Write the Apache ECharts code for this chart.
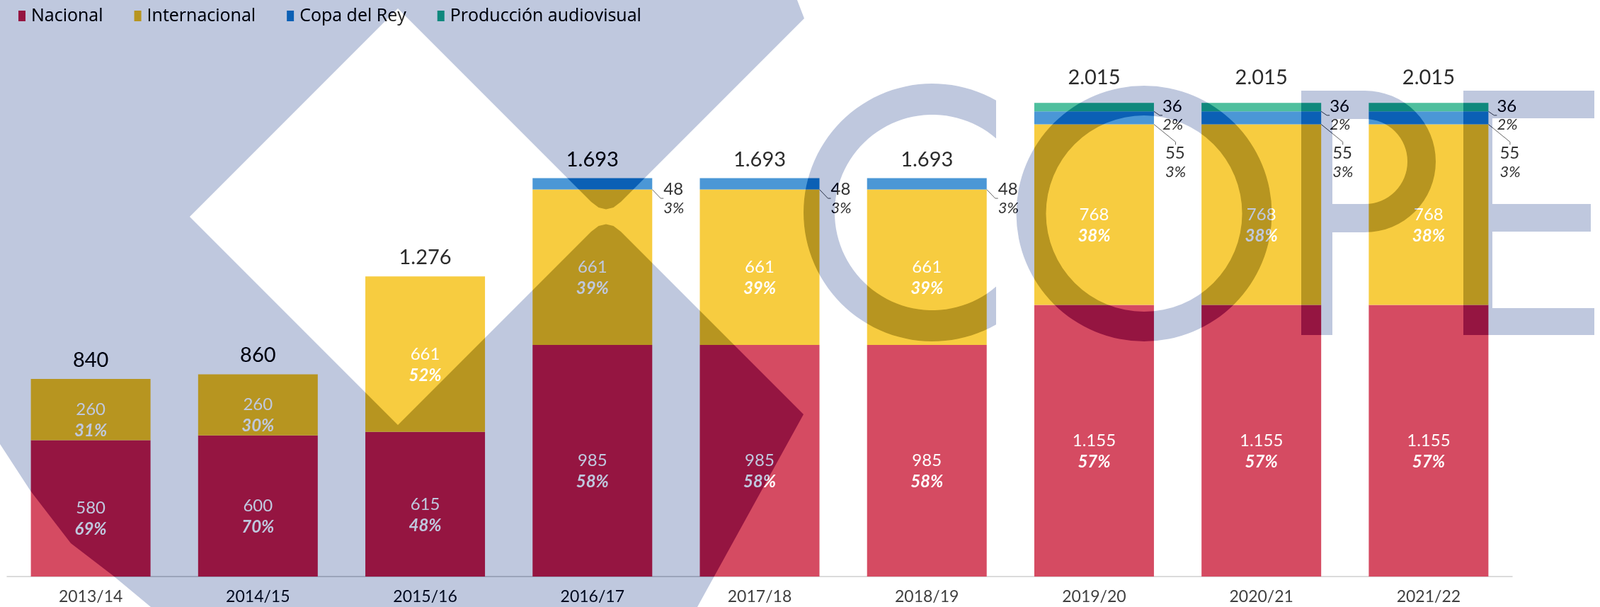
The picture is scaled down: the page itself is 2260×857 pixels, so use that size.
<!DOCTYPE html>
<html>
<head>
<meta charset="utf-8">
<title>Ingresos por derechos</title>
<script src="https://cdn.jsdelivr.net/npm/echarts/dist/echarts.min.js"></script>
<style>
    html, body { margin: 0; padding: 0; background: #fff; }
    #chart { width: 2260px; height: 857px; }
</style>
</head>
<body>
<div id="chart"></div>
<script>
// datos por temporada
const temporadas = ['2013/14', '2014/15', '2015/16', '2016/17', '2017/18', '2018/19', '2019/20', '2020/21', '2021/22'];
const nacional = [580, 600, 615, 985, 985, 985, 1155, 1155, 1155];
const internacional = [260, 260, 661, 661, 661, 661, 768, 768, 768];
const copaDelRey = [null, null, null, 48, 48, 48, 55, 55, 55];
const produccion = [null, null, null, null, null, null, 36, 36, 36];
const totales = [840, 860, 1276, 1693, 1693, 1693, 2015, 2015, 2015];

const FONT = 'Lato';

// 1155 -> "1.155"
function fmt(v) {
    if (v >= 1000) {
        return Math.floor(v / 1000) + '.' + String(v % 1000).padStart(3, '0');
    }
    return String(v);
}

function pct(v, i) {
    return Math.round(v / totales[i] * 100) + '%';
}

let innerLabel = {
    show: true,
    position: 'inside',
    offset: [0, 15],
    formatter: (p) => '{v|' + fmt(p.value) + '}\n{p|' + pct(p.value, p.dataIndex) + '}',
    rich: {
        v: {fontFamily: FONT, fontSize: 24, color: '#fff', lineHeight: 30},
        p: {fontFamily: FONT, fontSize: 24, color: '#fff', fontWeight: 'bold', fontStyle: 'italic', lineHeight: 30}
    }
};

let sideLabel = {
    show: true,
    position: 'right',
    distance: 16,
    formatter: (p) => '{v|' + fmt(p.value) + '}\n{p|' + pct(p.value, p.dataIndex) + '}',
    rich: {
        v: {fontFamily: FONT, fontSize: 24, color: '#333', lineHeight: 26},
        p: {fontFamily: FONT, fontSize: 22, color: '#333', fontStyle: 'italic', lineHeight: 26}
    }
};

let sideLine = {
    show: true,
    length2: 4,
    lineStyle: {color: '#666', width: 1}
};

// marca de agua (logo COPE), se pinta encima con fusion de color
function arc(cx, cy, r, a0, a1, n) {
    let pts = [];
    for (let i = 0; i <= n; i++) {
        let a = a0 + (a1 - a0) * i / n;
        pts.push([cx + r * Math.cos(a), cy + r * Math.sin(a)]);
    }
    return pts;
}

let cOuter = Math.acos(90 / 182);
let cInner = Math.acos(90 / 138);
let logoParts = [
    {type: 'polygon', shape: {points: [
        [0, 0], [1126, 0], [1136, 26], [877, 285], [866.5, 292.9], [856, 295.5], [845.5, 292.9], [835, 285],
        [562, 12], [268, 306], [562, 600],
        [835, 327], [845.5, 319.1], [856, 316.5], [866.5, 319.1], [877, 327],
        [1135, 585], [985, 857], [213, 857], [160, 813], [100, 767], [43, 693], [0, 627]
    ]}},
    // C
    {type: 'polygon', shape: {points: arc(1317, 300, 182, -cOuter, -2 * Math.PI + cOuter, 80)
            .concat(arc(1317, 300, 138, -2 * Math.PI + cInner, -cInner, 80))}},
    // O
    {type: 'ring', shape: {cx: 1616, cy: 301.5, r: 180.5, r0: 138.5}},
    // P
    {type: 'rect', shape: {x: 1838, y: 128, width: 44, height: 345}},
    {type: 'rect', shape: {x: 1882, y: 128, width: 46, height: 40}},
    {type: 'rect', shape: {x: 1882, y: 288, width: 46, height: 40}},
    {type: 'sector', shape: {cx: 1928, cy: 228, r: 100, r0: 60, startAngle: -Math.PI / 2, endAngle: Math.PI / 2, clockwise: true}},
    // E
    {type: 'polygon', shape: {points: [
        [2067, 128], [2252, 128], [2252, 167], [2108, 167], [2108, 288], [2247, 288], [2247, 327],
        [2108, 327], [2108, 435], [2252, 435], [2252, 473], [2067, 473]
    ]}}
];

let graphic = [];
['multiply', 'color-burn'].forEach((blend, k) => {
    logoParts.forEach((part) => {
        graphic.push({
            type: part.type,
            shape: part.shape,
            silent: true,
            z: 100 + k,
            style: {fill: 'rgb(204,210,226)', blend: blend}
        });
    });
});

let option = {
    backgroundColor: '#fff',
    animation: false,
    color: ['#d54b62', '#f7cc40', '#4b97d6', '#4ebf9e'],
    legend: {
        data: ['Nacional', 'Internacional', 'Copa del Rey', 'Producción audiovisual'],
        left: 21,
        top: 5,
        icon: 'rect',
        itemWidth: 10,
        itemHeight: 15,
        itemGap: 44,
        textStyle: {fontFamily: 'Open Sans', fontSize: 25, color: '#222', padding: [0, 0, 0, 3]}
    },
    grid: {left: 10, right: 124, top: 83.6, bottom: 43},
    xAxis: {
        type: 'category',
        data: temporadas,
        axisTick: {show: false},
        axisLine: {lineStyle: {color: '#cfcfcf', width: 1.5}},
        axisLabel: {fontFamily: FONT, fontSize: 23, color: '#404040', margin: 17}
    },
    yAxis: {type: 'value', min: 0, max: 2200, show: false},
    series: [
        {
            name: 'Nacional', type: 'bar', stack: 'total', barWidth: 169, barGap: '-100%',
            data: nacional, label: innerLabel
        },
        {
            name: 'Internacional', type: 'bar', stack: 'total', barWidth: 169, barGap: '-100%',
            data: internacional, label: innerLabel
        },
        {
            name: 'Copa del Rey', type: 'bar', stack: 'total', barWidth: 169, barGap: '-100%',
            data: copaDelRey, label: sideLabel, labelLine: sideLine,
            labelLayout: (p) => ({dy: p.dataIndex < 6 ? 21 : 63})
        },
        {
            name: 'Producción audiovisual', type: 'bar', stack: 'total', barWidth: 169, barGap: '-100%',
            data: produccion, label: Object.assign({}, sideLabel, {distance: 12}), labelLine: sideLine,
            labelLayout: () => ({dy: 12})
        },
        {
            // solo para los totales encima de cada barra
            name: 'Total', type: 'bar', barWidth: 169, barGap: '-100%', silent: true,
            data: totales,
            itemStyle: {color: 'rgba(0,0,0,0)'},
            label: {
                show: true,
                position: 'top',
                distance: 12,
                formatter: (p) => fmt(p.value),
                fontFamily: FONT,
                fontSize: 29,
                color: '#2b2b2b'
            },
            labelLayout: (p) => ({dy: p.dataIndex >= 6 ? -9 : 0})
        }
    ],
    graphic: graphic
};

let myChart = echarts.init(document.getElementById('chart'));
myChart.setOption(option);
</script>
</body>
</html>
